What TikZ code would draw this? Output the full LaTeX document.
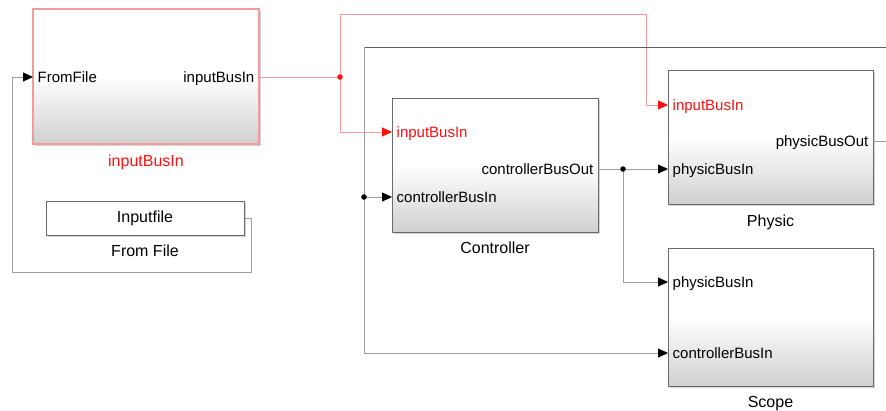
\documentclass[tikz,border=0pt]{standalone}
\usepackage{fontspec}
\setmainfont{Liberation Sans}
\usetikzlibrary{arrows.meta,calc,positioning,shadows}
\definecolor{SimLine}{HTML}{9C9C9C}
\definecolor{SimDark}{HTML}{5E5E5E}
\definecolor{SimBorder}{HTML}{6A6A6A}
\definecolor{SimShade}{HTML}{D0D0D0}
\definecolor{SimRed}{HTML}{FF1010}
\definecolor{SimPink}{HTML}{F39A9A}

\begin{document}
\begin{tikzpicture}[x=1pt,y=-1pt,
    simblock/.style={
      draw=SimBorder, line width=1pt, inner sep=0pt,
      top color=white, bottom color=SimShade, middle color=white,
      drop shadow={shadow xshift=1.5pt,shadow yshift=-1.5pt,opacity=0.35}
    },
    redblock/.style={simblock, draw=SimPink, line width=1.3pt},
    inport/.style={anchor=west, inner xsep=4.5pt, inner ysep=0pt,
      text height=10.7pt, text depth=0pt, font=\fontsize{15}{17}\selectfont},
    outport/.style={inport, anchor=east},
    blockname/.style={font=\fontsize{16}{18}\selectfont, inner sep=0pt, anchor=base},
    wire/.style={SimLine, line width=0.8pt},
    redwire/.style={SimPink, line width=1pt},
    tip/.style={-{Triangle[length=10pt,width=9pt,color=black]}},
    redtip/.style={-{Triangle[length=10pt,width=9pt,color=SimRed]}},
    splitdot/.style={circle, fill=black, inner sep=0pt, minimum size=5.5pt}
  ]

    \useasboundingbox (0,0) rectangle (886,410);

    % blocks
    \node[redblock, minimum width=226pt, minimum height=135pt]
      (inBus) at (146,76.5) {};
    \node[simblock, top color=white, bottom color=white,
      minimum width=198pt, minimum height=34pt,
      font=\fontsize{16}{18}\selectfont]
      (fromFile) at (145,218) {Inputfile};
    \node[simblock, minimum width=206pt, minimum height=134pt]
      (ctrl) at (495,165) {};
    \node[simblock, minimum width=205pt, minimum height=134pt]
      (phys) at (770.5,137) {};
    \node[simblock, minimum width=205pt, minimum height=138pt]
      (scope) at (770.5,317) {};

    % block names
    \node[blockname, text=SimRed, below=21.5pt of inBus.south, anchor=base]
      (inBusName) {inputBusIn};
    \node[blockname, below=21pt of fromFile.south, anchor=base]
      (fromFileName) {From File};
    \node[blockname, below=21pt of ctrl.south, anchor=base]
      (ctrlName) {Controller};
    \node[blockname, below=22pt of phys.south, anchor=base]
      (physName) {Physic};
    \node[blockname, below=21pt of scope.south, anchor=base]
      (scopeName) {Scope};

    % ports
    \node[inport] (inFrom) at (33,77) {FromFile};
    \node[outport] (inOut) at (259,77) {inputBusIn};
    \node[inport, text=SimRed] (ctrlInput) at (392,132) {inputBusIn};
    \node[inport] (ctrlBusIn) at (392,197) {controllerBusIn};
    \node[outport] (ctrlOut) at (598,169) {controllerBusOut};
    \node[inport, text=SimRed] (physInput) at (668,105) {inputBusIn};
    \node[inport] (physIn) at (668,169) {physicBusIn};
    \node[outport] (physOut) at (873,141) {physicBusOut};
    \node[inport] (scopePhys) at (668,282) {physicBusIn};
    \node[inport] (scopeCtrl) at (668,353) {controllerBusIn};

    % branch points and edges
    \coordinate (redSplit) at (340,77);
    \coordinate (ctrlSplit) at (623,169);
    \coordinate (fbSplit) at (364,197);
    \coordinate (fbCorner) at (364,47);
    \coordinate (edgeTop) at (886,47);
    \coordinate (edgeOut) at (886,141);

    % file loop
    \draw[wire, tip] (fromFile.east) -- ++(7,0) |- (12,272) |- (inFrom.west);

    % input bus (red)
    \draw[redwire] (inOut.east) -- (redSplit);
    \draw[redwire, redtip] (redSplit) |- (ctrlInput.west);
    \draw[redwire, redtip] (redSplit) |- (646,14) |- (physInput.west);
    \node[splitdot, fill=SimRed] at (redSplit) {};

    % controller output
    \draw[wire] (ctrlOut.east) -- (ctrlSplit);
    \draw[wire, tip] (ctrlSplit) -- (physIn.west);
    \draw[wire, tip] (ctrlSplit) |- (scopePhys.west);
    \node[splitdot] at (ctrlSplit) {};

    % feedback
    \draw[wire] (physOut.east) -- (edgeOut);
    \draw[wire, SimDark] (edgeTop) -- (fbCorner);
    \draw[wire] (fbCorner) -- (fbSplit);
    \draw[wire, tip] (fbSplit) -- (ctrlBusIn.west);
    \draw[wire, tip] (fbSplit) |- (scopeCtrl.west);
    \node[splitdot] at (fbSplit) {};

\end{tikzpicture}
\end{document}
